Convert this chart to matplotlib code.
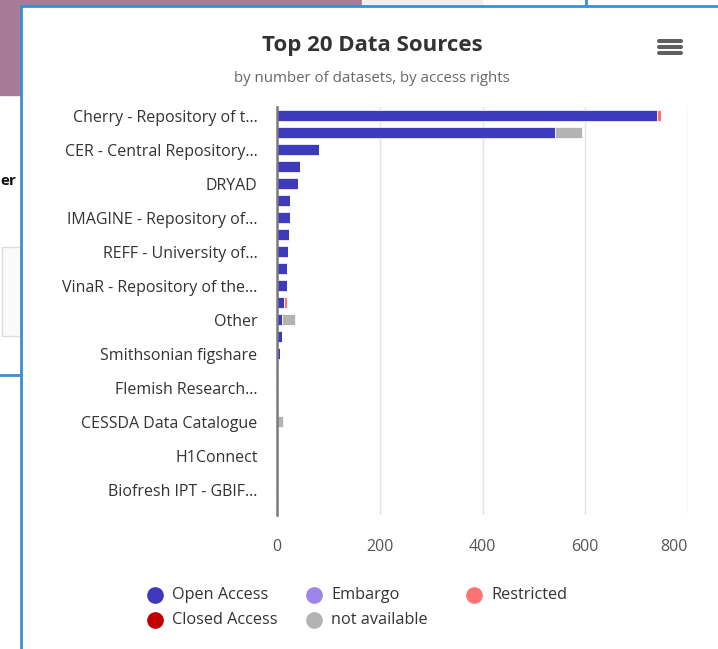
import matplotlib.pyplot as plt
from matplotlib.patches import Rectangle
from matplotlib.lines import Line2D
from matplotlib.transforms import ScaledTranslation

plt.rcParams['font.family'] = ['Open Sans', 'DejaVu Sans']

# 24 rows, only every other label is printed in the chart
sources = [
    "Cherry - Repository of t...", "",
    "CER - Central Repository...", "",
    "DRYAD", "",
    "IMAGINE - Repository of...", "",
    "REFF - University of...", "",
    "VinaR - Repository of the...", "",
    "Other", "",
    "Smithsonian figshare", "",
    "Flemish Research...", "",
    "CESSDA Data Catalogue", "",
    "H1Connect", "",
    "Biofresh IPT - GBIF...", "",
]
open_access = [740, 541, 82, 45, 40, 26, 26, 24, 21, 19, 19, 13, 10, 9, 6, 1, 1, 1, 0, 1, 0, 1, 1, 1]
embargo = [0] * 24
restricted = [8, 0, 0, 0, 0, 0, 0, 0, 0, 0, 0, 6, 0, 0, 0, 0, 0, 0, 0, 0, 0, 0, 0, 0]
closed_access = [0] * 24
not_available = [0, 52, 0, 0, 0, 0, 0, 0, 0, 0, 0, 0, 26, 0, 0, 0, 0, 0, 11, 0, 0, 0, 0, 0]

series_names = ["Open Access", "Embargo", "Restricted", "Closed Access", "not available"]
series_values = [open_access, embargo, restricted, closed_access, not_available]
colors = ["#3d3abd", "#9d86ea", "#ff7373", "#c00000", "#b3b3b3"]

W, H = 718, 649
fig = plt.figure(figsize=(W / 100, H / 100), dpi=100)
fig.patch.set_facecolor("white")


def fx(x):
    return x / W


def fy(y):
    return 1 - y / H


# page behind the chart card
fig.add_artist(Rectangle((0, fy(95)), fx(21), 1 - fy(95), transform=fig.transFigure, color="#a57b95", zorder=0))
fig.add_artist(Rectangle((0, fy(6)), fx(362), 1 - fy(6), transform=fig.transFigure, color="#a57b95", zorder=0))
fig.add_artist(Rectangle((fx(362), fy(6)), fx(120), 1 - fy(6), transform=fig.transFigure, color="#f0f0f0", zorder=0))
fig.add_artist(Rectangle((fx(2), fy(336)), fx(19), fy(247) - fy(336), transform=fig.transFigure,
                         facecolor="#fafafa", edgecolor="#dddddd", lw=1, zorder=0))
fig.text(fx(0), fy(181), "er", fontsize=11, fontweight="bold", color="#111111", va="center")
fig.add_artist(Line2D([0, fx(21)], [fy(375), fy(375)], transform=fig.transFigure, color="#3a8fd6", lw=2))
fig.add_artist(Line2D([fx(586), fx(586)], [fy(0), fy(6)], transform=fig.transFigure, color="#3a8fd6", lw=2))
# card border
fig.add_artist(Line2D([fx(21), fx(21)], [0, fy(6)], transform=fig.transFigure, color="#3a8fd6", lw=2))
fig.add_artist(Line2D([fx(21), 1], [fy(6), fy(6)], transform=fig.transFigure, color="#3a8fd6", lw=2))

ax = fig.add_axes([fx(277), fy(515), fx(688) - fx(277), fy(107) - fy(515)])

rows = list(range(len(sources)))
left = [0] * len(sources)
for name, vals, col in zip(series_names, series_values, colors):
    ax.barh(rows, vals, left=left, height=0.6, color=col, edgecolor="white", linewidth=0.5, label=name, zorder=3)
    left = [a + b for a, b in zip(left, vals)]

ax.set_xlim(0, 800)
ax.set_ylim(len(sources) - 0.5, -0.5)
ax.set_xticks([0, 200, 400, 600, 800])
ax.set_yticks(rows)
ax.set_yticklabels(sources, fontsize=11.5, color="#333333")
ax.tick_params(axis="y", length=0, pad=14)
ax.tick_params(axis="x", length=0, pad=17, labelsize=11.5, labelcolor="#555555")
# the last x label is pulled inside the chart, as in the original
last = ax.get_xticklabels()[-1]
last.set_transform(last.get_transform() + ScaledTranslation(-0.14, 0, fig.dpi_scale_trans))
ax.grid(axis="x", color="#e3e3e3", lw=1, zorder=0)
for s in ["top", "right", "bottom"]:
    ax.spines[s].set_visible(False)
ax.spines["left"].set_color("#7a7a7a")
ax.spines["left"].set_linewidth(1.8)
ax.spines["left"].set_zorder(4)

fig.text(fx(372), fy(45), "Top 20 Data Sources", ha="center", va="center",
         fontsize=16, fontweight="bold", color="#333333")
fig.text(fx(372), fy(78), "by number of datasets, by access rights", ha="center", va="center",
         fontsize=10.8, color="#666666")

# menu icon
for yy in [41, 47, 53]:
    fig.add_artist(Line2D([fx(659), fx(681)], [fy(yy), fy(yy)], transform=fig.transFigure,
                          color="#5f5f5f", lw=2.9, solid_capstyle="round"))

# legend, laid out row by row like the original
legend_pos = [(155, 595), (314, 595), (474, 595), (155, 620), (314, 620)]
for name, col, (lx, ly) in zip(series_names, colors, legend_pos):
    fig.add_artist(Line2D([fx(lx)], [fy(ly)], transform=fig.transFigure, marker="o",
                          markersize=11, color=col, linestyle="none"))
    fig.text(fx(lx + 17), fy(ly), name, va="center", fontsize=11.7, color="#333333")

fig.savefig("out.png", dpi=100)
